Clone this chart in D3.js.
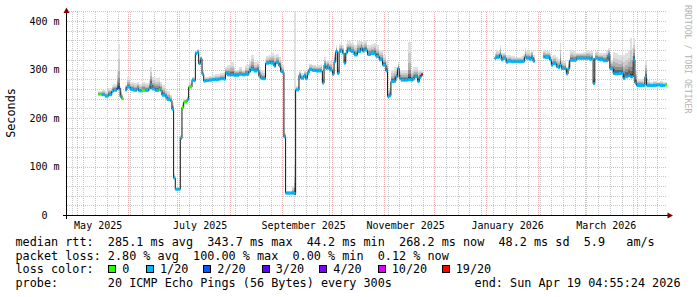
<!DOCTYPE html>
<html><head><meta charset="utf-8">
<script src="https://cdn.jsdelivr.net/npm/d3@7"></script>
<style>
html,body{margin:0;padding:0;background:#fff;}
svg{display:block;}
text{white-space:pre;font-family:"DejaVu Sans Mono",monospace;}
</style></head><body>
<script>
// ---------------- data ----------------
const dates = [
"2025-05-14","2025-05-16","2025-05-18","2025-05-20","2025-05-22","2025-05-23","2025-05-25","2025-05-26","2025-05-27","2025-05-28","2025-05-29","2025-05-30","2025-05-31",
"2025-06-02","2025-06-04","2025-06-06","2025-06-07","2025-06-09","2025-06-11","2025-06-13","2025-06-14","2025-06-15","2025-06-17","2025-06-19","2025-06-20","2025-06-21","2025-06-23","2025-06-24","2025-06-26","2025-06-27","2025-06-28","2025-06-29","2025-06-30",
"2025-07-01","2025-07-02","2025-07-03","2025-07-04","2025-07-06","2025-07-07","2025-07-09","2025-07-10","2025-07-11","2025-07-12","2025-07-13","2025-07-14","2025-07-15","2025-07-16","2025-07-17","2025-07-19","2025-07-21","2025-07-23","2025-07-25","2025-07-26","2025-07-28","2025-07-29","2025-07-30",
"2025-08-01","2025-08-03","2025-08-04","2025-08-06","2025-08-08","2025-08-10","2025-08-12","2025-08-13","2025-08-15","2025-08-17","2025-08-18","2025-08-19","2025-08-20","2025-08-22","2025-08-24","2025-08-25","2025-08-27","2025-08-28","2025-08-30","2025-08-31",
"2025-09-01","2025-09-02","2025-09-03","2025-09-05","2025-09-07","2025-09-08","2025-09-09","2025-09-11","2025-09-12","2025-09-14","2025-09-15","2025-09-16","2025-09-17","2025-09-19","2025-09-21","2025-09-22","2025-09-24","2025-09-25","2025-09-26","2025-09-27","2025-09-28","2025-09-29",
"2025-10-01","2025-10-02","2025-10-03","2025-10-04","2025-10-05","2025-10-06","2025-10-07","2025-10-08","2025-10-09","2025-10-10","2025-10-12","2025-10-14","2025-10-16","2025-10-18","2025-10-19","2025-10-20","2025-10-22","2025-10-24","2025-10-26","2025-10-27","2025-10-29","2025-10-31",
"2025-11-02","2025-11-03","2025-11-04","2025-11-05","2025-11-07","2025-11-08","2025-11-09","2025-11-10","2025-11-11","2025-11-13","2025-11-15","2025-11-17","2025-11-18","2025-11-19","2025-11-21","2025-11-22","2025-11-23","2025-11-24",
"2026-01-06","2026-01-07","2026-01-08","2026-01-09","2026-01-10","2026-01-11","2026-01-13","2026-01-14","2026-01-16","2026-01-18","2026-01-20","2026-01-22","2026-01-23","2026-01-24","2026-01-25","2026-01-27","2026-01-28","2026-01-29","2026-01-30",
"2026-02-04","2026-02-05","2026-02-07","2026-02-08","2026-02-09","2026-02-10","2026-02-12","2026-02-13","2026-02-14","2026-02-15","2026-02-16","2026-02-18","2026-02-19","2026-02-20","2026-02-22","2026-02-24","2026-02-26","2026-02-28",
"2026-03-02","2026-03-04","2026-03-05","2026-03-06","2026-03-07","2026-03-09","2026-03-10","2026-03-12","2026-03-14","2026-03-15","2026-03-16","2026-03-18","2026-03-19","2026-03-21","2026-03-23","2026-03-24","2026-03-25","2026-03-27","2026-03-28","2026-03-29","2026-03-30","2026-03-31",
"2026-04-01","2026-04-03","2026-04-05","2026-04-06","2026-04-07","2026-04-09","2026-04-11","2026-04-13","2026-04-15","2026-04-17","2026-04-18"
];
// median rtt in milliseconds (null = no data)
const medianMs = [
249,248,245,248,255,257,261,262,244,240,null,258,264,
259,257,260,256,257,257,260,269,260,257,258,257,247,244,238,236,218,76,53,53,
53,158,222,233,238,264,278,277,333,336,312,322,290,276,277,278,279,279,280,281,280,293,289,
289,288,288,290,289,290,296,300,297,299,286,282,281,313,314,313,307,314,307,296,
294,161,45,45,45,45,258,288,282,288,281,292,300,298,297,297,297,272,309,302,306,299,
290,316,337,292,337,340,334,313,334,340,337,330,337,344,338,340,331,333,333,327,320,309,
297,244,246,275,276,285,302,282,278,278,279,278,280,285,275,283,289,null,
323,325,325,330,320,323,315,317,316,316,316,316,317,326,323,321,326,317,null,
326,325,325,320,309,312,306,304,309,302,302,291,302,319,319,323,323,323,
323,321,323,271,323,321,320,318,318,330,302,292,291,292,292,282,285,289,285,285,320,272,
267,267,267,285,267,267,267,268,267,267,268
];
// lost pings out of 20
const lossCount = [
0,1,1,1,1,1,2,2,1,0,null,1,1,
1,1,1,1,0,1,1,1,1,1,0,1,1,1,1,1,1,1,1,1,
1,1,0,0,1,0,1,1,1,1,1,1,1,1,1,1,1,1,1,1,1,1,1,
1,1,1,1,1,1,1,1,1,1,1,1,1,1,1,1,1,1,1,1,
1,1,1,1,1,1,1,1,1,1,1,1,1,1,1,1,1,1,1,1,1,1,
1,1,1,1,1,1,1,1,1,1,1,1,1,1,1,1,1,1,1,1,1,1,
1,1,1,1,1,1,1,1,1,1,1,1,1,1,1,1,19,null,
1,1,1,1,1,1,1,1,1,1,1,1,1,1,1,1,1,1,null,
1,1,1,1,1,1,1,1,1,1,1,1,1,1,1,1,1,1,
1,1,1,1,1,1,1,1,1,1,1,1,1,1,1,1,1,1,1,1,1,1,
1,1,1,1,1,1,1,1,1,1,0
];
// slowest ping (top of the smoke) in milliseconds
const smokeHighMs = [
256,258,255,262,268,270,300,352,262,250,null,268,285,
275,272,275,270,275,272,280,305,285,282,285,275,268,260,255,248,230,85,58,58,
58,165,230,240,245,272,285,285,340,342,320,328,296,283,285,287,288,290,290,292,295,305,310,
316,305,300,305,300,310,318,330,315,318,305,300,298,328,330,335,330,332,325,315,
310,170,50,50,60,430,265,298,292,298,292,302,312,310,308,310,312,285,325,318,320,318,
305,335,350,305,352,355,350,330,352,358,355,350,358,362,356,360,350,352,355,350,340,330,
318,260,262,300,305,305,315,300,298,300,357,300,305,305,300,300,298,null,
335,340,338,350,335,335,330,330,328,326,326,328,332,345,338,335,340,330,null,
340,338,338,335,328,330,325,322,355,320,318,305,320,340,338,335,335,336,
340,338,338,285,338,335,335,335,340,345,320,337,335,330,340,330,335,340,365,345,365,300,
280,280,278,320,278,275,276,275,276,275,275
];

const yTickValues = [0,100,200,300,400];
const yTickLabels = ["  0","100 m","200 m","300 m","400 m"];
const xLabelMonths = ["2025-05-01","2025-07-01","2025-09-01","2025-11-01","2026-01-01","2026-03-01"];
const xLabelTexts = ["May 2025","July 2025","September 2025","November 2025","January 2026","March 2026"];
const lossLevels = [0,1,2,3,4,10,19];
const lossLabels = ["0","1/20","2/20","3/20","4/20","10/20","19/20"];
const lossColors = ["#26ff00","#00b8ff","#0059ff","#5e00ff","#7e00ff","#dd00ff","#ff0000"];
const legendLines = [
"median rtt:  285.1 ms avg  343.7 ms max  44.2 ms min  268.2 ms now  48.2 ms sd  5.9   am/s",
"packet loss: 2.80 % avg  100.00 % max  0.00 % min  0.12 % now",
"loss color:",
"probe:       20 ICMP Echo Pings (56 Bytes) every 300s"
];
const endText = "end: Sun Apr 19 04:55:24 2026";
const yAxisTitle = "Seconds";
const watermark = "RRDTOOL / TOBI OETIKER";

// ---------------- chart ----------------
const W = 697, H = 297;
const svg = d3.select("body").append("svg").attr("width", W).attr("height", H)
  .style("background", "#fff");

const parse = d3.utcParse("%Y-%m-%d");
const tStart = new Date(Date.UTC(2025, 3, 25, 4, 55, 24));
const tEnd = new Date(Date.UTC(2026, 3, 19, 4, 55, 24));
const x = d3.scaleUtc().domain([tStart, tEnd]).range([67, 667]);
const y = d3.scaleLinear().domain([0, 420]).range([215, 11.3]);

const pts = dates.map((d, i) => ({
  t: parse(d), v: medianMs[i], loss: lossCount[i], hi: smokeHighMs[i]
}));
pts.forEach((p, i) => { p.tNext = i < pts.length - 1 ? pts[i + 1].t : tEnd; });
const valid = pts.filter(p => p.v != null);

const gGrid = svg.append("g");
const X0 = 67, X1 = 667, Y0 = 215, Y1 = 11.3;
const px = v => Math.round(v) + 0.5;
const minorCol = "#c8c8c8", majorCol = "#ecb4b4";

// minor grid
const minorY = d3.range(0, 421, 20).filter(v => v % 100 !== 0);
gGrid.selectAll("line.my").data(minorY).join("line")
  .attr("x1", X0).attr("x2", X1)
  .attr("y1", d => px(y(d))).attr("y2", d => px(y(d)))
  .attr("stroke", minorCol).attr("stroke-dasharray", "1,1");
const weeks = d3.utcMonday.range(tStart, tEnd);
gGrid.selectAll("line.mx").data(weeks).join("line")
  .attr("x1", d => px(x(d))).attr("x2", d => px(x(d)))
  .attr("y1", Y0).attr("y2", Y1)
  .attr("stroke", minorCol).attr("stroke-dasharray", "1,1");
// major grid
gGrid.selectAll("line.My").data(yTickValues.filter(v => v > 0)).join("line")
  .attr("x1", X0).attr("x2", X1)
  .attr("y1", d => px(y(d))).attr("y2", d => px(y(d)))
  .attr("stroke", majorCol).attr("stroke-dasharray", "1,1");
const months = d3.utcMonth.range(tStart, tEnd);
gGrid.selectAll("line.Mx").data(months).join("line")
  .attr("x1", d => px(x(d))).attr("x2", d => px(x(d)))
  .attr("y1", Y0).attr("y2", Y1)
  .attr("stroke", majorCol).attr("stroke-dasharray", "1,1");

// clip
svg.append("clipPath").attr("id", "plot").append("rect")
  .attr("x", X0).attr("y", Y1).attr("width", X1 - X0).attr("height", Y0 - Y1);
const gData = svg.append("g").attr("clip-path", "url(#plot)");

// smoke layers
const smokeLayers = [
  {f: 1.00, cap: 1e9, c: "#e0e0e0"},
  {f: 0.70, cap: 60, c: "#cbcbcb"},
  {f: 0.50, cap: 34, c: "#b0b0b0"},
  {f: 0.33, cap: 20, c: "#8e8e8e"},
  {f: 0.19, cap: 11, c: "#666666"},
  {f: 0.08, cap: 5, c: "#3a3a3a"}
];
smokeLayers.forEach(L => {
  gData.append("g").selectAll("rect").data(valid).join("rect")
    .attr("x", p => x(p.t)).attr("width", p => Math.max(0, x(p.tNext) - x(p.t)))
    .attr("y", p => y(p.v + Math.min(L.f * (p.hi - p.v), L.cap)))
    .attr("height", p => {
      const top = y(p.v + Math.min(L.f * (p.hi - p.v), L.cap));
      const bot = y(p.v - Math.min(L.f * (p.hi - p.v) * 0.12, 3));
      return Math.max(0, bot - top);
    })
    .attr("fill", L.c).attr("shape-rendering", "crispEdges");
});

// median black step line, per contiguous segment
const segments = [];
let cur = [];
pts.forEach(p => {
  if (p.v == null) { if (cur.length) segments.push(cur); cur = []; }
  else cur.push(p);
});
if (cur.length) segments.push(cur);
const line = d3.line().x(d => x(d.t)).y(d => y(d.v)).curve(d3.curveStepAfter);
segments.forEach(seg => {
  const last = seg[seg.length - 1];
  const arr = seg.map(p => ({t: p.t, v: p.v})).concat([{t: last.tNext, v: last.v}]);
  gData.append("path").attr("d", line(arr))
    .attr("fill", "none").attr("stroke", "#141414").attr("stroke-width", 1);
});

// loss coloured median bands
const lossColor = l => {
  let k = lossLevels.findIndex(v => l <= v);
  if (k < 0) k = lossLevels.length - 1;
  return lossColors[k];
};
gData.append("g").selectAll("rect").data(valid).join("rect")
  .attr("x", p => x(p.t)).attr("width", p => Math.max(0, x(p.tNext) - x(p.t)))
  .attr("y", p => y(p.v) - 1.5).attr("height", 3)
  .attr("fill", p => lossColor(p.loss));

// axes
const axisCol = "#000", arrowCol = "#7f0000";
svg.append("line").attr("x1", 63).attr("x2", 668).attr("y1", 215.5).attr("y2", 215.5)
  .attr("stroke", axisCol);
svg.append("line").attr("x1", 66.5).attr("x2", 66.5).attr("y1", 219).attr("y2", 12)
  .attr("stroke", axisCol);
svg.append("path").attr("d", "M667.5,212.5L673,215.5L667.5,218.5Z").attr("fill", arrowCol);
svg.append("path").attr("d", "M63.5,13L66.5,7.5L69.5,13Z").attr("fill", arrowCol);

// y tick labels
svg.append("g").selectAll("text").data(yTickValues).join("text")
  .attr("x", 29.5).attr("y", d => y(d) + 3.6)
  .attr("font-size", "10px").attr("fill", "#000")
  .text((d, i) => yTickLabels[i]);

// x labels
svg.append("g").selectAll("text").data(xLabelMonths).join("text")
  .attr("x", d => x(parse(d)) + 21.5).attr("y", 228.5)
  .attr("text-anchor", "middle").attr("font-size", "10px").attr("fill", "#000")
  .text((d, i) => xLabelTexts[i]);

// y axis title
svg.append("text").attr("transform", "translate(14.5,113) rotate(-90)")
  .attr("text-anchor", "middle").attr("font-size", "11.8px").attr("fill", "#000")
  .text(yAxisTitle);

// watermark
svg.append("text").attr("transform", "translate(684.5,5) rotate(90)")
  .attr("font-size", "8.2px").attr("fill", "#b4b4b4")
  .text(watermark);

// legend
const lineY = [246, 259.7, 273.3, 287];
svg.append("g").selectAll("text").data(legendLines).join("text")
  .attr("x", 15.5).attr("y", (d, i) => lineY[i])
  .attr("font-size", "11.8px").attr("fill", "#000")
  .text(d => d);
svg.append("text").attr("x", 680.5).attr("y", lineY[3]).attr("text-anchor", "end")
  .attr("font-size", "11.8px").attr("fill", "#000").text(endText);

const boxX = [108.3, 146, 203.3, 261.7, 319.3, 377.7, 441.7];
const gl = svg.append("g");
gl.selectAll("rect").data(lossColors).join("rect")
  .attr("x", (d, i) => Math.round(boxX[i]) + 0.5).attr("y", 265.5)
  .attr("width", 7).attr("height", 7)
  .attr("fill", d => d).attr("stroke", "#000").attr("stroke-width", 1);
gl.selectAll("text").data(lossLabels).join("text")
  .attr("x", (d, i) => boxX[i] + 14).attr("y", lineY[2])
  .attr("font-size", "11.8px").attr("fill", "#000")
  .text(d => d);
</script>
</body></html>
